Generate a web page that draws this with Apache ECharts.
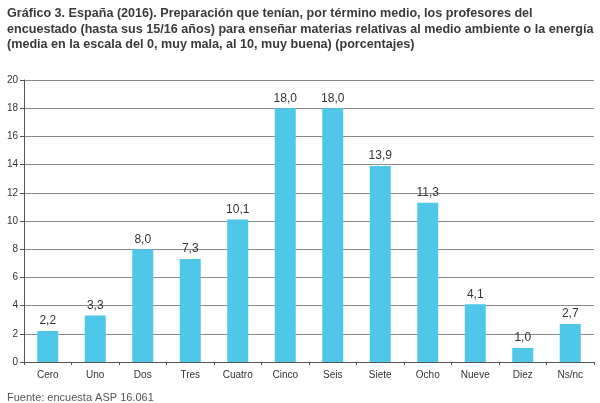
<!DOCTYPE html>
<html><head><meta charset="utf-8">
<script src="https://cdn.jsdelivr.net/npm/echarts@6/dist/echarts.min.js"></script>
<style>html,body{margin:0;padding:0;background:#fff;}#c{width:600px;height:403px;}</style>
</head><body><div id="c"></div>
<script>
const categories = ["Cero","Uno","Dos","Tres","Cuatro","Cinco","Seis","Siete","Ocho","Nueve","Diez","Ns/nc"];
const values = [2.2,3.3,8.0,7.3,10.1,18.0,18.0,13.9,11.3,4.1,1.0,2.7];
const yTicks = {min:0,max:20,interval:2};
const titleText = "Gráfico 3. España (2016). Preparación que tenían, por término medio, los profesores del\nencuestado (hasta sus 15/16 años) para enseñar materias relativas al medio ambiente o la energía\n(media en la escala del 0, muy mala, al 10, muy buena) (porcentajes)";
const sourceText = "Fuente: encuesta ASP 16.061";
const chart = echarts.init(document.getElementById('c'));
const ff = "'Liberation Sans',Arial,sans-serif";
chart.setOption({
  animation:false,
  textStyle:{fontFamily:ff},
  title:[{text:titleText,left:2,top:1,textStyle:{fontFamily:ff,fontSize:12.6,fontWeight:'bold',color:'#3a3a3a',lineHeight:15.5}},
         {text:sourceText,left:2,top:387,textStyle:{fontFamily:ff,fontSize:11,fontWeight:'normal',color:'#555'}}],
  grid:{left:24,right:6,top:80,bottom:41,containLabel:false},
  xAxis:{type:'category',data:categories,
    axisLine:{lineStyle:{color:'#555',width:1}},
    axisTick:{show:true,length:3,lineStyle:{color:'#555'}},
    axisLabel:{color:'#333',fontSize:10,margin:8,fontFamily:ff}},
  yAxis:{type:'value',min:yTicks.min,max:yTicks.max,interval:yTicks.interval,
    axisLine:{show:true,lineStyle:{color:'#555'}},
    axisTick:{show:true,length:4,lineStyle:{color:'#555'}},
    axisLabel:{color:'#333',fontSize:10,margin:6,fontFamily:ff},
    splitLine:{lineStyle:{color:'#8a8a8a',width:1}}},
  series:[{type:'bar',data:values,barWidth:21,
    itemStyle:{color:'#4ec7e8'},
    label:{show:true,position:'top',distance:4,color:'#333',fontSize:12,fontFamily:ff,
      formatter:p=>p.value.toFixed(1).replace('.',',')}}]
});
</script></body></html>
